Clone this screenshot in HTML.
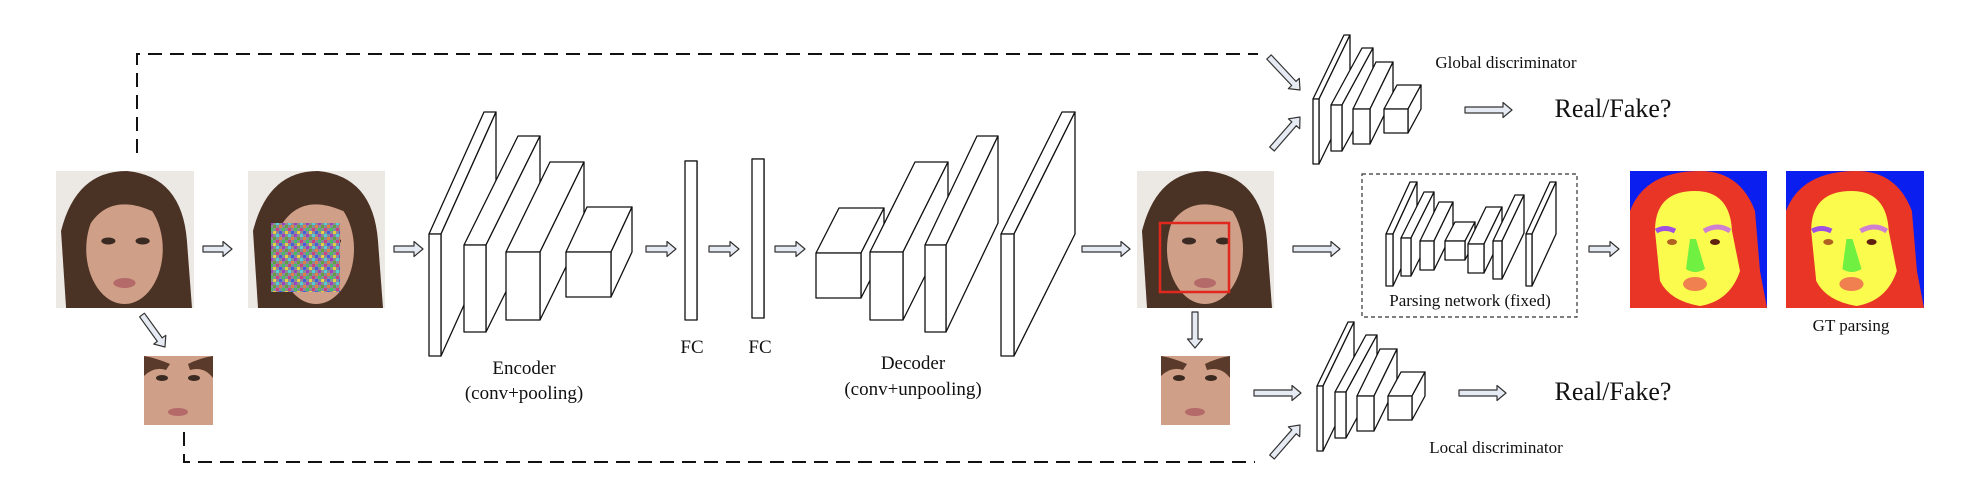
<!DOCTYPE html>
<html><head><meta charset="utf-8"><style>
html,body{margin:0;padding:0;background:#fff;}
svg{display:block;}
text{font-family:"Liberation Serif",serif;fill:#111;}
</style></head><body>
<svg id="s" width="1984" height="504" viewBox="0 0 1984 504" xmlns="http://www.w3.org/2000/svg">
<defs>
<pattern id="noise" width="12" height="12" patternUnits="userSpaceOnUse">
<rect width="12" height="12" fill="#8a8a9a"/>
<rect x="0" y="0" width="3" height="3" fill="#d04080"/><rect x="6" y="0" width="3" height="3" fill="#40c060"/>
<rect x="3" y="3" width="3" height="3" fill="#4060e0"/><rect x="9" y="3" width="3" height="3" fill="#e0d040"/>
<rect x="0" y="6" width="3" height="3" fill="#50d0d0"/><rect x="6" y="6" width="3" height="3" fill="#a040c0"/>
<rect x="3" y="9" width="3" height="3" fill="#e08040"/><rect x="9" y="9" width="3" height="3" fill="#60a040"/>
</pattern>
<symbol id="face" viewBox="0 0 137 137" preserveAspectRatio="none">
<rect width="137" height="137" fill="#ece8e4"/>
<path d="M10 137 L5 60 Q20 0 70 0 Q125 5 130 70 L135 137 Z" fill="#4a3224"/>
<ellipse cx="68" cy="78" rx="38" ry="55" fill="#cf9f88"/>
<path d="M30 60 Q50 20 95 40 L100 30 Q70 5 35 35Z" fill="#4a3224"/>
<ellipse cx="52" cy="70" rx="7" ry="3.5" fill="#3a2a22"/><ellipse cx="86" cy="70" rx="7" ry="3.5" fill="#3a2a22"/>
<ellipse cx="68" cy="112" rx="11" ry="5" fill="#b56a6a"/>
</symbol>
<symbol id="crop" viewBox="0 0 69 69" preserveAspectRatio="none">
<rect width="69" height="69" fill="#cf9f88"/>
<path d="M0 0 L0 20 Q10 10 22 14 L26 8 Q12 2 0 0Z" fill="#5a3a2a"/>
<path d="M69 0 L69 22 Q60 10 46 14 L44 8 Q56 2 69 0Z" fill="#5a3a2a"/>
<ellipse cx="18" cy="22" rx="6" ry="3" fill="#3a2a22"/><ellipse cx="50" cy="22" rx="6" ry="3" fill="#3a2a22"/>
<ellipse cx="34" cy="56" rx="10" ry="4" fill="#b56a6a"/>
</symbol>
<symbol id="parse" viewBox="0 0 137 137" preserveAspectRatio="none">
<rect width="137" height="137" fill="#0a1ef0"/>
<path d="M0 137 L0 40 Q15 0 70 0 Q110 0 125 40 L130 100 L137 137Z" fill="#e83526"/>
<path d="M25 60 Q25 20 65 20 Q100 20 102 60 L110 100 Q100 130 70 135 Q40 130 30 110Z" fill="#fbfb4e"/>
<path d="M26 60 Q35 55 45 60" stroke="#a050e0" stroke-width="5" fill="none"/>
<path d="M74 60 Q88 52 100 60" stroke="#d080d0" stroke-width="5" fill="none"/>
<ellipse cx="42" cy="71" rx="5" ry="3" fill="#b06020"/><ellipse cx="85" cy="71" rx="5" ry="3" fill="#602010"/>
<path d="M60 68 L66 68 L75 98 Q65 104 56 98Z" fill="#70f040"/>
<ellipse cx="65" cy="113" rx="12" ry="7" fill="#f08050"/>
</symbol>
</defs>

<g fill="none" stroke="#111" stroke-width="2" stroke-dasharray="14,8">
<path d="M137 153 L137 54 L1258 54"/>
<path d="M184 432 L184 462 L1255 462"/>
</g>

<use href="#face" x="56" y="171" width="138" height="137"/>
<use href="#face" x="248" y="171" width="137" height="137"/>
<rect x="271" y="223" width="69" height="69" fill="url(#noise)"/>
<use href="#crop" x="144" y="356" width="69" height="69"/>
<use href="#face" x="1137" y="171" width="137" height="137"/>
<rect x="1160" y="223" width="69" height="69" fill="none" stroke="#e0281e" stroke-width="2.5"/>
<use href="#crop" x="1161" y="356" width="69" height="69"/>
<use href="#parse" x="1630" y="171" width="137" height="137"/>
<use href="#parse" x="1786" y="171" width="138" height="137"/>

<rect x="1362" y="174" width="215" height="143" fill="none" stroke="#333" stroke-width="1.2" stroke-dasharray="4,3"/>

<g id="blocks" fill="#fff" stroke="#111" stroke-width="1.3" stroke-linejoin="round"></g>
<g id="arrows" fill="#e6eaf2" stroke="#333" stroke-width="1.2" stroke-linejoin="round"></g>

<text x="524" y="374" font-size="19" text-anchor="middle">Encoder</text>
<text x="524" y="399" font-size="19" text-anchor="middle">(conv+pooling)</text>
<text x="692" y="353" font-size="19" text-anchor="middle">FC</text>
<text x="760" y="353" font-size="19" text-anchor="middle">FC</text>
<text x="913" y="369" font-size="19" text-anchor="middle">Decoder</text>
<text x="913" y="395" font-size="19" text-anchor="middle">(conv+unpooling)</text>
<text x="1506" y="68" font-size="17" text-anchor="middle">Global discriminator</text>
<text x="1496" y="453" font-size="17" text-anchor="middle">Local discriminator</text>
<text x="1470" y="306" font-size="17" text-anchor="middle">Parsing network (fixed)</text>
<text x="1851" y="331" font-size="17" text-anchor="middle">GT parsing</text>
<text x="1613" y="117" font-size="26" text-anchor="middle">Real/Fake?</text>
<text x="1613" y="400" font-size="26" text-anchor="middle">Real/Fake?</text>
</svg>
<script>
var NS="http://www.w3.org/2000/svg";
var B=document.getElementById("blocks"),A=document.getElementById("arrows");
function poly(g,pts){var p=document.createElementNS(NS,"polygon");p.setAttribute("points",pts.map(function(q){return q[0].toFixed(1)+","+q[1].toFixed(1)}).join(" "));g.appendChild(p);}
function blk(x,y,w,h,dx,dy){
 poly(B,[[x,y],[x+dx,y+dy],[x+w+dx,y+dy],[x+w,y]]);
 poly(B,[[x+w,y],[x+w+dx,y+dy],[x+w+dx,y+h+dy],[x+w,y+h]]);
 poly(B,[[x,y],[x+w,y],[x+w,y+h],[x,y+h]]);
}
// encoder
blk(429,234,12,122,55,-122);blk(464,245,22,87,54,-109);blk(506,252,34,68,44,-90);blk(566,252,45,45,21,-45);
// FC
blk(685,161,12,159,0,0);blk(752,159,12,159,0,0);
// decoder (left to right)
blk(816,253,45,45,23,-45);blk(870,252,33,68,45,-90);blk(925,245,21,87,52,-109);blk(1001,234,13,122,61,-122);
// discriminators
function disc(ox,oy){blk(1313+ox,99+oy,6,65,31,-64);blk(1331+ox,105+oy,11,46,31,-57);blk(1353+ox,109+oy,17,35,23,-47);blk(1384+ox,109+oy,24,24,13,-24);}
disc(0,0);disc(4,287);
// parsing net
blk(1386,234,7,52,24,-52);blk(1401,238,10,38,23,-46);blk(1420,241,14,29,19,-39);
blk(1445,241,20,19,10,-19);
blk(1468,244,16,29,18,-37);blk(1493,241,9,38,22,-46);blk(1526,234,6,52,24,-52);
function arr(x1,y1,x2,y2){
 var dx=x2-x1,dy=y2-y1,L=Math.hypot(dx,dy),ux=dx/L,uy=dy/L,nx=-uy,ny=ux,s=3,h=7.5,hl=9;
 var bx=x2-ux*hl,by=y2-uy*hl;
 poly(A,[[x1+nx*s,y1+ny*s],[bx+nx*s,by+ny*s],[bx+nx*h,by+ny*h],[x2,y2],[bx-nx*h,by-ny*h],[bx-nx*s,by-ny*s],[x1-nx*s,y1-ny*s]]);
}
arr(203,249,232,249);arr(394,249,423,249);arr(646,249,676,249);arr(709,249,739,249);arr(775,249,805,249);
arr(1082,249,1130,249);arr(1293,249,1340,249);arr(1589,249,1619,249);
arr(142,315,165,347);arr(1195,312,1195,348);arr(1254,393,1301,393);
arr(1269,57,1300,90);arr(1272,149,1300,117);arr(1272,457,1300,425);
arr(1465,110,1512,110);arr(1459,393,1506,393);
</script>
</body></html>
